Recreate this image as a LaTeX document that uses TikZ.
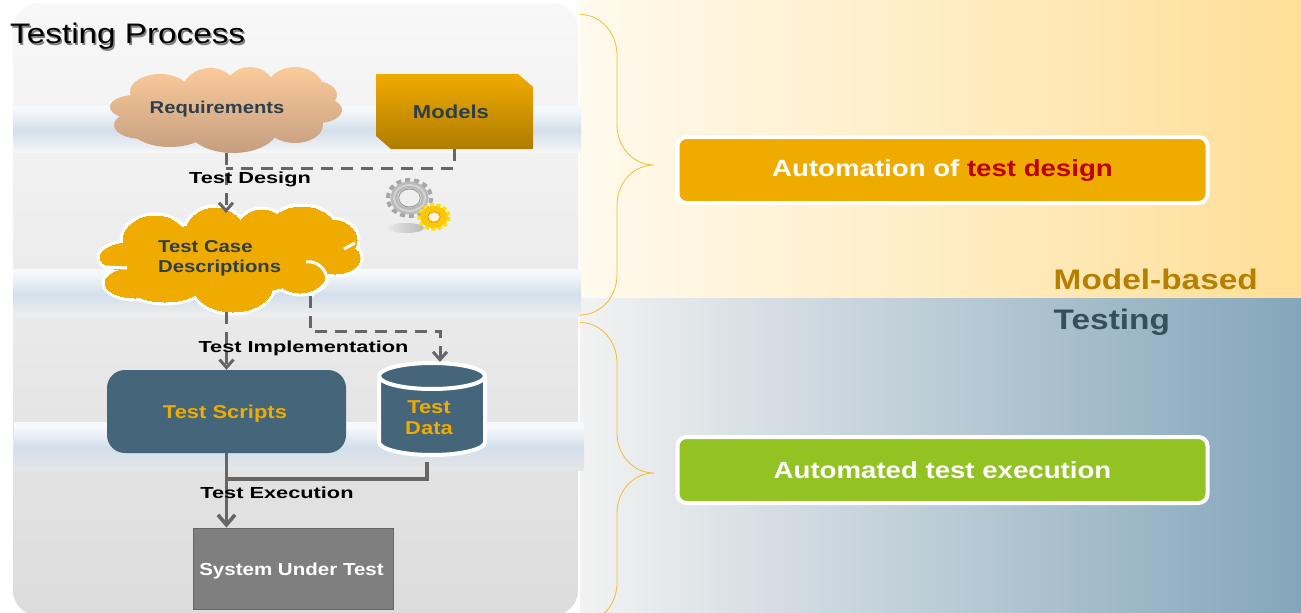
\documentclass[tikz,border=0pt]{standalone}
\usepackage{fontspec}
\setmainfont[FakeStretch=1.18]{Liberation Sans}
\newfontfamily\steplabelfont[FakeStretch=1.36]{Liberation Sans}
\usepackage{tikz}
\usetikzlibrary{arrows.meta}

\definecolor{gold}{HTML}{F0AB00}
\definecolor{golddark}{HTML}{AF7C00}
\definecolor{slate}{HTML}{45667A}
\definecolor{leaf}{HTML}{92C322}
\definecolor{wire}{HTML}{666666}
\definecolor{inktext}{HTML}{2B3F4D}
\definecolor{creamleft}{HTML}{FFFAEE}
\definecolor{creamright}{HTML}{FFDF98}
\definecolor{blueleft}{HTML}{F2F2F2}
\definecolor{bluemid}{HTML}{C2D1DB}
\definecolor{blueright}{HTML}{84A6BA}
\definecolor{paneltop}{HTML}{F8F8F8}
\definecolor{panelbottom}{HTML}{DCDCDC}
\definecolor{bandmid}{HTML}{D3DFEB}
\definecolor{bandtop}{HTML}{F6F8FB}
\definecolor{peachtop}{HTML}{FBCB9A}
\definecolor{peachbottom}{HTML}{C49E80}
\definecolor{sutgray}{HTML}{7F7F7F}
\definecolor{designred}{HTML}{C00000}
\definecolor{modeltext}{HTML}{B57F00}
\definecolor{testingtext}{HTML}{34505F}

\pgfdeclareverticalshading{bandone}{100bp}{color(0bp)=(paneltop!92!panelbottom); color(25bp)=(paneltop!92!panelbottom); color(48bp)=(bandmid); color(70bp)=(bandtop); color(100bp)=(bandtop)}
\pgfdeclareverticalshading{bandtwo}{100bp}{color(0bp)=(paneltop!65!panelbottom); color(25bp)=(paneltop!65!panelbottom); color(48bp)=(bandmid); color(70bp)=(bandtop); color(100bp)=(bandtop)}
\pgfdeclareverticalshading{bandthree}{100bp}{color(0bp)=(paneltop!35!panelbottom); color(25bp)=(paneltop!35!panelbottom); color(48bp)=(bandmid); color(70bp)=(bandtop); color(100bp)=(bandtop)}

\tikzset{
  flow/.style={wire,line width=3.2pt},
  dashflow/.style={flow,line width=3pt,dash pattern=on 12pt off 8pt},
  tip/.style={-{Straight Barb[length=8pt,width=14pt]}},
  bigtip/.style={-{Straight Barb[length=10pt,width=17pt]}},
  steplabel/.style={font=\steplabelfont\fontsize{16}{18}\selectfont\bfseries,text=black,inner sep=0pt},
  boxtext/.style={font=\fontsize{18.6}{21}\selectfont\bfseries,inner sep=0pt,align=left},
  resultbox/.style={draw=white,line width=4pt,rounded corners=9pt,minimum width=530pt,minimum height=66pt,
    font=\fontsize{23.4}{27}\selectfont\bfseries,text=white},
  bracket/.style={draw=gold!80!white,line width=0.8pt},
  anchorbox/.style={rectangle,inner sep=0pt}
}

\begin{document}
\begin{tikzpicture}[x=1pt,y=-1pt]
\useasboundingbox (0,0) rectangle (1301,613);
\clip (0,0) rectangle (1301,613);

%backgrounds
\fill[white] (0,0) rectangle (580,613);
\shade[left color=creamleft,right color=creamright] (580,0) rectangle (1301,298);
\shade[left color=blueleft,middle color=bluemid,right color=blueright] (580,298) rectangle (1301,613);

\shade[top color=paneltop,bottom color=panelbottom,rounded corners=26pt] (13,3) rectangle (578,616);
\shade[shading=bandone] (13,105) rectangle (581,152);
\shade[shading=bandtwo] (13,269) rectangle (581,316);
\shade[shading=bandthree] (14,422) rectangle (584,470);

%clouds
\node [anchorbox,minimum width=232pt,minimum height=86pt] (reqs) at(226,110){};
\shade[top color=peachtop,bottom color=peachbottom] (226,110) ellipse (100 and 30) (135,107) ellipse (25 and 12) (142,125) ellipse (28 and 14)
  (160,92) ellipse (30 and 18) (210,92) ellipse (28 and 24) (250,90) ellipse (25 and 23) (295,88) ellipse (28 and 21) (315,95) ellipse (22 and 14)
  (318,110) ellipse (24 and 13) (295,125) ellipse (28 and 18) (233,128) ellipse (45 and 25) (170,127) ellipse (40 and 20);

\node [anchorbox,minimum width=262pt,minimum height=106pt] (tcd) at(230,258.5){};
\foreach \w/\c in {7pt/white,0pt/gold}{
\path[draw=\c,line width=\w,fill=\c] (230,258) ellipse (100 and 35) (130,257) ellipse (30 and 14) (135,283) ellipse (30 and 15)
  (155,240) ellipse (32 and 24) (215,235) ellipse (30 and 27) (262,232) ellipse (25 and 22) (302,232) ellipse (35 and 25) (332,240) ellipse (25 and 20)
  (335,258) ellipse (25 and 16) (300,268) ellipse (28 and 25) (233,285) ellipse (40 and 27) (165,282) ellipse (40 and 20);
}
\draw[white,line width=3pt] (306,262) to[out=10,in=90] (327,280) to[out=-90,in=50] (310,297);
\draw[white,line width=3pt] (344,249) -- (355,243);
\draw[white,line width=3pt] (105,267) -- (127,268);

%other process nodes
\node [anchorbox,minimum width=157pt,minimum height=75pt] (models) at(454.5,111.5){};
\shade[top color=gold,bottom color=golddark] (376,74) -- (518,74) -- (533,87) -- (533,149) -- (391,149) -- (376,136) -- cycle;
\node [rectangle,rounded corners=18pt,fill=slate,minimum width=239pt,minimum height=83pt] (scripts) at(226.5,411.5){};
\node [anchorbox,minimum width=110pt,minimum height=96pt] (data) at(432,409){};
\path[draw=white,line width=4pt,fill=slate] (379,376) arc (180:360:53 and 13) -- (485,442) arc (0:180:53 and 13) -- cycle;
\draw[white,line width=4pt] (379,376) arc (180:0:53 and 13);
\node [rectangle,draw=wire,line width=0.8pt,fill=sutgray,minimum width=200pt,minimum height=81pt] (sut) at(293,568.5){};

\node [boxtext,text=inktext,font=\fontsize{17.1}{20}\selectfont\bfseries] (reqstext) at(217,109.5){Requirements};
\node [boxtext,text=inktext,font=\fontsize{17.2}{20}\selectfont\bfseries,anchor=west] (tcdtext) at(158,258){Test Case\\Descriptions};
\node [boxtext,text=inktext,font=\fontsize{18.7}{22}\selectfont\bfseries] (modelstext) at(451,112){Models};
\node [boxtext,text=gold] (scriptstext) at(225,414){Test Scripts};
\node [boxtext,text=gold,align=center] (datatext) at(429,417.5){Test\\Data};
\node [boxtext,text=white,font=\fontsize{17.4}{20}\selectfont\bfseries] (suttext) at(291.5,570.5){System Under Test};

%connector ends
\coordinate (join1) at(226,168);
\coordinate (tcdin) at(226,213);
\coordinate (tcdout) at(310,296);
\coordinate (bend1) at(310,331);
\coordinate (bend2) at(440,331);
\coordinate (datain) at(440,362);
\coordinate (dataout) at(427,462);
\coordinate (join2) at(427,479);

\draw[dashflow,tip] (reqs.south -| join1) -- (tcdin);
\draw[dashflow] (models.south) |- (join1);
\draw[dashflow,tip] (tcd.south -| scripts.north) -- (scripts.north);
\draw[dashflow,tip] (tcdout) -- (bend1) -- (bend2) -- (datain);
\draw[flow,bigtip,line width=3.6pt] (scripts.south) -- (scripts.south |- sut.north);
\draw[flow] (dataout) -- (join2) -- (join2 -| scripts.south);

\node [steplabel] (design) at(250,179){Test Design};
\node [steplabel] (impl) at(303.5,348){Test Implementation};
\node [steplabel] (exec) at(277,493){Test Execution};

%gears
\shade[left color=gray!20,right color=gray!65,opacity=0.8] (406,228) ellipse (18 and 5);
\begin{scope}[shift={(409.5,198)},xscale=1.2]
\draw[gray!70,line width=4pt,dash pattern=on 5pt off 3.9pt] (0,0) circle (18);
\draw[gray!55,line width=7pt] (0,0) circle (13);
\draw[gray!35,line width=2pt] (0,0) circle (13);
\draw[gray!75,line width=1pt] (0,0) circle (9);
\end{scope}
\begin{scope}[shift={(434,217)},xscale=1.25]
\draw[yellow!85!orange,line width=3.5pt,dash pattern=on 4pt off 2.6pt] (0,0) circle (12);
\fill[yellow!60!orange] (0,0) circle (11);
\fill[yellow!15!white] (0,0) circle (5);
\draw[orange,line width=0.8pt] (0,0) circle (5);
\end{scope}

%title
\node [text=gray,anchor=west,inner sep=0pt,font=\fontsize{28.2}{32}\selectfont] (titleshadow) at(11.5,38){Testing Process};
\node [text=black,anchor=west,inner sep=0pt,font=\fontsize{28.2}{32}\selectfont] (title) at(10,36.5){Testing Process};

%right side
\draw[bracket] (580,14.5) to[out=0,in=90] (617,55) -- (617,125) to[out=-90,in=180] (654,165) to[out=180,in=90] (617,205) -- (617,275) to[out=-90,in=0] (580,315);
\draw[bracket] (580,322.5) to[out=0,in=90] (617,363) -- (617,433) to[out=-90,in=180] (654,473) to[out=180,in=90] (617,513) -- (617,583) to[out=-90,in=0] (580,623);

\node [resultbox,fill=gold] (designbox) at(942.5,170){\raisebox{-2pt}{Automation of \textcolor{designred}{test design}}};
\node [resultbox,fill=leaf] (execbox) at(942.5,470){Automated test execution};

\node [anchor=west,inner sep=0pt,text=modeltext,font=\fontsize{28.3}{32}\selectfont\bfseries] (mbtop) at(1053.5,279){Model-based};
\node [anchor=west,inner sep=0pt,text=testingtext,font=\fontsize{28.3}{32}\selectfont\bfseries] (mbbottom) at(1053.5,322.5){Testing};

\end{tikzpicture}
\end{document}
